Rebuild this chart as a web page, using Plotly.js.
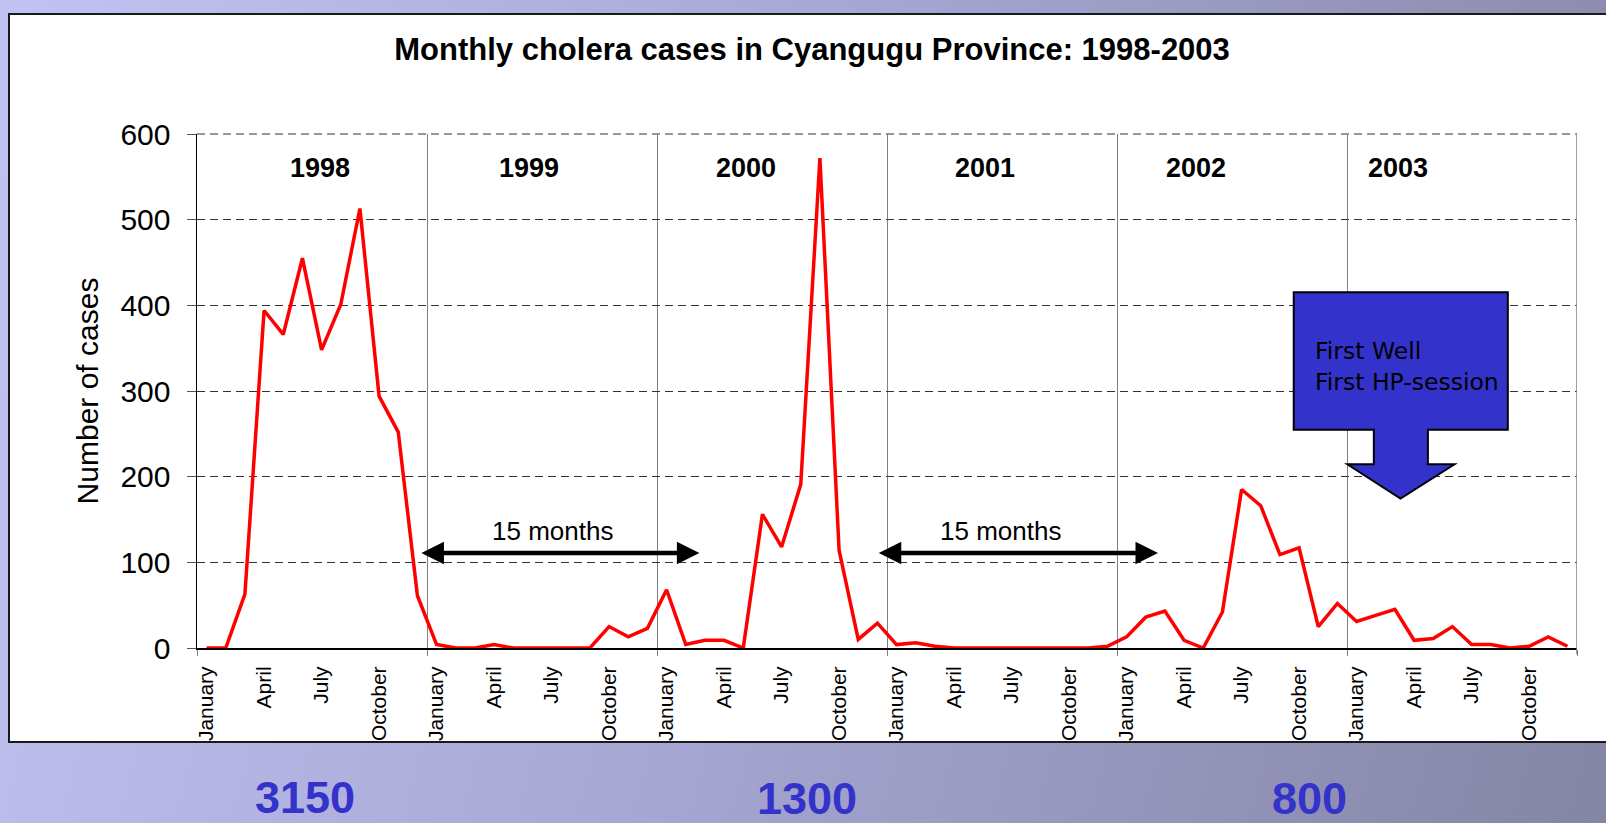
<!DOCTYPE html>
<html>
<head>
<meta charset="utf-8">
<script src="https://cdn.plot.ly/plotly-3.0.1.min.js"></script>
<style>
  html, body { margin: 0; padding: 0; width: 1606px; height: 823px; overflow: hidden; }
  body { background: linear-gradient(105deg, #c2c3f2 0%, #a4a5d0 50%, #8585a5 100%); position: relative; }
  #panel { position: absolute; left: 8px; top: 13px; width: 1610px; height: 726px; background: #fff;
           border: 2px solid #1a1a1a; box-sizing: content-box; }
  #chart { position: absolute; left: 0; top: 0; width: 1606px; height: 823px; }
</style>
</head>
<body>
<div id="panel"></div>
<div id="chart"></div>
<script>
// ---- data ----
const years = ['1998', '1999', '2000', '2001', '2002', '2003'];
const monthNames = ['January','February','March','April','May','June','July','August','September','October','November','December'];
const labelledMonths = ['January', 'April', 'July', 'October'];
const cases1998 = [0, 0, 63, 394, 366, 455, 348, 401, 513, 294, 252, 61];
const cases1999 = [4, 0, 0, 4, 0, 0, 0, 0, 0, 25, 13, 23];
const cases2000 = [68, 4, 9, 9, 0, 156, 118, 191, 572, 114, 10, 29];
const cases2001 = [4, 6, 2, 0, 0, 0, 0, 0, 0, 0, 0, 2];
const cases2002 = [13, 36, 43, 9, 0, 42, 185, 166, 109, 117, 25, 52];
const cases2003 = [31, 38, 45, 9, 11, 25, 4, 4, 0, 2, 13, 2];
const outbreakTotals = ['3150', '1300', '800'];
const gapLabel = '15 months';
const calloutText = 'First Well<br>First HP-session';
const titleText = 'Monthly cholera cases in Cyangugu Province: 1998-2003';
const yTitle = 'Number of cases';

// ---- build series ----
const allCases = [].concat(cases1998, cases1999, cases2000, cases2001, cases2002, cases2003);
const monthIdx = allCases.map((_, i) => i);
const monthText = allCases.map((_, i) => monthNames[i % 12] + ' ' + years[Math.floor(i / 12)]);

const tickvals = [], ticktext = [];
years.forEach((y, k) => {
  labelledMonths.forEach(m => {
    tickvals.push(k * 12 + monthNames.indexOf(m));
    ticktext.push(m);
  });
});

// annotation placement (layout, not data)
const yearLabelX = [5.93, 16.83, 28.16, 40.63, 51.6, 62.14];
const yearLabelY = 560;
const gapArrows = [[11.13, 25.71, 18.06], [34.99, 49.64, 41.43]];
const gapArrowY = 111, gapTextY = 137;
const totalsPos = [[0.0786, -0.291], [0.4417, -0.293], [0.8064, -0.292]];
const xMin = -0.5, xMax = 71.5;

const FONT = '"Liberation Sans", Arial, sans-serif';

const annotations = [];
years.forEach((y, k) => {
  annotations.push({ x: yearLabelX[k], y: yearLabelY, xref: 'x', yref: 'y', text: '<b>' + y + '</b>',
    showarrow: false, font: { family: FONT, size: 27, color: '#000' }, xanchor: 'center', yanchor: 'middle' });
});
gapArrows.forEach(([a, b, c]) => {
  annotations.push({ x: b, y: gapArrowY, ax: a, ay: gapArrowY, xref: 'x', yref: 'y', axref: 'x', ayref: 'y',
    text: '', showarrow: true, arrowhead: 2, arrowside: 'end+start', arrowsize: 1, arrowwidth: 4.5,
    arrowcolor: '#000', standoff: 0, startstandoff: 0 });
  annotations.push({ x: c, y: gapTextY, xref: 'x', yref: 'y', text: gapLabel, showarrow: false,
    font: { family: FONT, size: 26, color: '#000' }, xanchor: 'center', yanchor: 'middle' });
});
annotations.push({ x: 57.7, y: 329, xref: 'x', yref: 'y', text: calloutText, showarrow: false, align: 'left',
  xanchor: 'left', yanchor: 'middle', font: { family: '"DejaVu Sans", Verdana, sans-serif', size: 23.5, color: '#000' } });
outbreakTotals.forEach((t, k) => {
  annotations.push({ x: totalsPos[k][0], y: totalsPos[k][1], xref: 'paper', yref: 'paper', text: '<b>' + t + '</b>',
    showarrow: false, xanchor: 'center', yanchor: 'middle', font: { family: FONT, size: 45, color: '#3333cc' } });
});

const callout = 'M 56.72,415.3 L 67.89,415.3 L 67.89,254.8 L 63.72,254.8 L 63.72,214.5 L 65.11,214.5 ' +
                'L 62.29,174.3 L 59.52,214.5 L 60.90,214.5 L 60.90,254.8 L 56.72,254.8 Z';

const trace = {
  x: monthIdx, y: allCases, text: monthText, type: 'scatter', mode: 'lines',
  line: { color: '#ff0000', width: 3.5 }, hoverinfo: 'text+y', showlegend: false
};

const layout = {
  width: 1606, height: 823, autosize: false,
  margin: { l: 197, r: 29, t: 134, b: 175, pad: 0 },
  paper_bgcolor: 'rgba(0,0,0,0)', plot_bgcolor: '#ffffff',
  font: { family: FONT, color: '#000' },
  title: { text: '<b>' + titleText + '</b>', font: { family: FONT, size: 31, color: '#000' },
           xref: 'paper', x: 0.4457, xanchor: 'center', yref: 'container', y: 1 - 49 / 823, yanchor: 'middle' },
  xaxis: {
    range: [xMin, xMax], tickmode: 'array', tickvals: tickvals, ticktext: ticktext, tickangle: -90,
    tickfont: { family: FONT, size: 21, color: '#000' }, ticks: '', showgrid: false, zeroline: false,
    showline: true, linecolor: '#000', linewidth: 2, ticklabelstandoff: 8,
    minor: { tickmode: 'linear', tick0: -0.5, dtick: 12, ticks: 'outside', ticklen: 6, tickwidth: 1,
             tickcolor: '#808080', showgrid: true, gridcolor: '#808080', gridwidth: 1 },
    fixedrange: true
  },
  yaxis: {
    range: [0, 600], tickmode: 'linear', tick0: 0, dtick: 100, ticks: 'outside', ticklen: 9, tickwidth: 1,
    tickcolor: '#555', showline: true, linecolor: '#000', linewidth: 1.5, zeroline: false,
    showgrid: true, gridcolor: '#333', gridwidth: 1, griddash: '8px,5px',
    tickfont: { family: FONT, size: 30, color: '#000' }, ticklabelstandoff: 10,
    title: { text: yTitle, font: { family: FONT, size: 30, color: '#000' }, standoff: 13 },
    automargin: false, fixedrange: true
  },
  shapes: [
    // top dashed border at the 600 line
    { type: 'line', xref: 'x', yref: 'paper', x0: xMin, x1: xMax, y0: 1, y1: 1,
      line: { color: '#333', width: 1, dash: '8px,5px' }, layer: 'below' },
    // right plot border
    { type: 'line', xref: 'x', yref: 'paper', x0: xMax, x1: xMax, y0: -0.012, y1: 1,
      line: { color: '#808080', width: 1.5 }, layer: 'above' },
    { type: 'path', xref: 'x', yref: 'y', path: callout, fillcolor: '#3333cc',
      line: { color: '#000', width: 2 }, layer: 'above' }
  ],
  annotations: annotations
};

Plotly.newPlot('chart', [trace], layout, { displayModeBar: false, staticPlot: true });
</script>
</body>
</html>
